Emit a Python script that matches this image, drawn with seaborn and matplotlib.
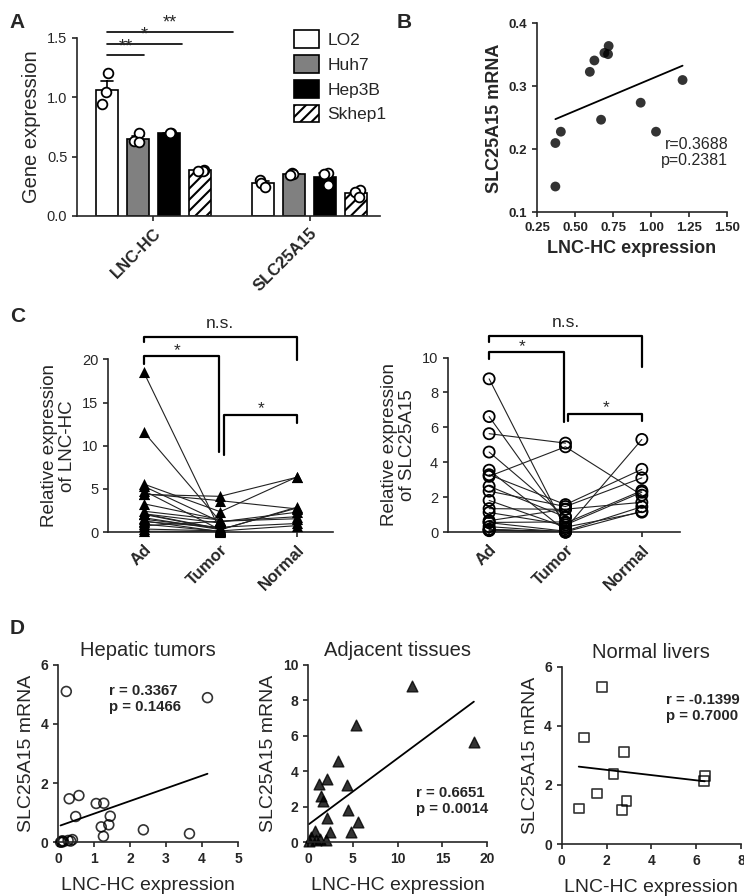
import numpy as np
import pandas as pd
import seaborn as sns
import matplotlib.pyplot as plt

# ---- panel A: cell lines ----
genes = ['LNC-HC', 'SLC25A15']
cell_lines = ['LO2', 'Huh7', 'Hep3B', 'Skhep1']
a_lnc = {'LO2': [1.20, 1.04, 0.94], 'Huh7': [0.70, 0.63, 0.62],
         'Hep3B': [0.70, 0.69, 0.70], 'Skhep1': [0.39, 0.38, 0.38]}
a_slc = {'LO2': [0.30, 0.28, 0.245], 'Huh7': [0.36, 0.35, 0.345],
         'Hep3B': [0.36, 0.355, 0.26], 'Skhep1': [0.22, 0.205, 0.16]}

# ---- panel B: cell line means ----
b_lnc = [0.37, 0.37, 0.406, 0.597, 0.627, 0.693, 0.721, 0.717, 0.671, 0.932, 1.033, 1.208]
b_slc = [0.210, 0.141, 0.228, 0.323, 0.341, 0.353, 0.364, 0.351, 0.247, 0.274, 0.228, 0.310]

# ---- panels C/D: patient samples (one row per patient) ----
adj_lnc = [11.59, 5.31, 18.5, 3.29, 2.13, 1.23, 4.37, 1.50, 1.68, 4.45,
           2.13, 5.57, 0.75, 2.43, 4.79, 0.37, 1.31, 2.06, 0.93, 0.11]
adj_slc = [8.78, 6.62, 5.64, 4.59, 3.55, 3.29, 3.20, 2.63, 2.35, 1.82,
           1.35, 1.13, 0.66, 0.56, 0.55, 0.32, 0.17, 0.13, 0.13, 0.09]
tum_lnc = [1.26, 1.20, 0.23, 1.45, 0.40, 0.58, 4.15, 0.49, 0.31, 3.65,
           1.06, 2.37, 1.27, 1.41, 0.28, 0.15, 0.07, 0.35, 0.12, 0.10]
tum_slc = [0.20, 0.52, 5.10, 0.88, 0.09, 1.58, 4.89, 0.87, 1.47, 0.29,
           1.31, 0.42, 1.32, 0.59, 0.06, 0.02, 0.00, 0.04, 0.05, 0.01]
nan = np.nan
nor_lnc = [1.79, 2.31, nan, nan, nan, 1.01, 6.35, nan, 2.79, 2.70,
           nan, 6.38, 1.56, nan, 2.89, 0.76, nan, nan, nan, nan]
nor_slc = [5.31, 2.38, nan, nan, nan, 3.60, 2.12, nan, 3.11, 1.15,
           nan, 2.29, 1.71, nan, 1.46, 1.20, nan, nan, nan, nan]
groups = ['Ad', 'Tumor', 'Normal']

sns.set_style('ticks')
plt.rcParams['font.family'] = ['Liberation Sans', 'DejaVu Sans']
plt.rcParams['axes.linewidth'] = 1.2
plt.rcParams['xtick.major.width'] = 1.2
plt.rcParams['ytick.major.width'] = 1.2
plt.rcParams['hatch.linewidth'] = 1.5

fig = plt.figure(figsize=(7.44, 8.96), dpi=100)

# ================= A =================
axA = fig.add_axes([0.1035, 0.759, 0.407, 0.199])
rows = []
for gene, d in zip(genes, [a_lnc, a_slc]):
    for cl in cell_lines:
        for v in d[cl]:
            rows.append({'gene': gene, 'cell': cl, 'val': v})
dfA = pd.DataFrame(rows)
pal = {'LO2': 'white', 'Huh7': '#808080', 'Hep3B': 'black', 'Skhep1': 'white'}
sns.barplot(data=dfA, x='gene', y='val', hue='cell', order=genes, hue_order=cell_lines,
            palette=pal, edgecolor='black', linewidth=1.2, errorbar='se', capsize=0.3,
            err_kws={'color': 'black', 'linewidth': 1.2, 'zorder': 0.5}, width=0.8, gap=0.3,
            ax=axA)
for bar in axA.containers[3]:
    bar.set_hatch('///')
sns.stripplot(data=dfA, x='gene', y='val', hue='cell', order=genes, hue_order=cell_lines,
              dodge=True, jitter=0.12, marker='o', size=7, linewidth=1.3,
              palette=['white'] * 4, legend=False, ax=axA)
for c in axA.collections:
    c.set_facecolor('white')
    c.set_edgecolor('black')
    c.set_zorder(3)
axA.set_xlim(-0.49, 1.45)
axA.set_ylim(0, 1.5)
axA.set_yticks([0, 0.5, 1.0, 1.5])
axA.set_yticklabels(['0.0', '0.5', '1.0', '1.5'], fontsize=10.5)
axA.set_xlabel('')
axA.set_ylabel('Gene expression', fontsize=14.5)
axA.set_xticks([0, 1])
axA.set_xticklabels(genes, rotation=45, ha='right', rotation_mode='anchor',
                    fontsize=12, fontweight='bold')
h, l = axA.get_legend_handles_labels()
leg = axA.legend(h[:4], l[:4], loc='upper left', bbox_to_anchor=(0.695, 1.08),
                 frameon=False, fontsize=12.5, handlelength=1.4, handleheight=1.2,
                 labelspacing=0.4, handletextpad=0.5, borderaxespad=0)
leg.get_patches()[3].set_hatch('///')
sns.despine(ax=axA)
# significance lines
for x2, y, t in [(-0.06, 1.35, '**'), (0.18, 1.45, '*'), (0.51, 1.55, '**')]:
    axA.plot([-0.3, x2], [y, y], color='black', lw=1.2, clip_on=False)
    axA.text((-0.3 + x2) / 2, y, t, ha='center', va='bottom', fontsize=13,
             clip_on=False)
fig.text(0.013, 0.985, 'A', fontsize=15, fontweight='bold', va='top')

# ================= B =================
axB = fig.add_axes([0.722, 0.763, 0.255, 0.211])
sns.regplot(x=b_lnc, y=b_slc, ci=None, ax=axB,
            scatter_kws={'color': 'black', 's': 50, 'edgecolor': 'none', 'clip_on': False},
            line_kws={'color': 'black', 'lw': 1.3})
axB.set_xlim(0.25, 1.5)
axB.set_ylim(0.1, 0.4)
axB.set_xticks([0.25, 0.5, 0.75, 1.0, 1.25, 1.5])
axB.set_xticklabels(['0.25', '0.50', '0.75', '1.00', '1.25', '1.50'], fontsize=9.5,
                    fontweight='bold')
axB.set_yticks([0.1, 0.2, 0.3, 0.4])
axB.set_yticklabels(['0.1', '0.2', '0.3', '0.4'], fontsize=9.5, fontweight='bold')
axB.set_xlabel('LNC-HC expression', fontsize=13, fontweight='bold')
axB.set_ylabel('SLC25A15 mRNA', fontsize=13, fontweight='bold')
axB.text(1.51, 0.195, 'r=0.3688\np=0.2381', ha='right', va='center', fontsize=11.5,
         linespacing=1.1)
sns.despine(ax=axB)
fig.text(0.533, 0.985, 'B', fontsize=15, fontweight='bold', va='top')


# ================= C =================
def paired_panel(ax, ad, tum, nor, marker, ylim, yticks, ylabel, brackets, texts):
    df = pd.DataFrame({'Ad': ad, 'Tumor': tum, 'Normal': nor})
    df['patient'] = range(len(df))
    long = df.melt(id_vars='patient', var_name='group', value_name='val').dropna()
    long['pos'] = long['group'].map({g: i for i, g in enumerate(groups)})
    sns.lineplot(data=long, x='pos', y='val', units='patient', estimator=None,
                 color='#222222', lw=0.8, ax=ax, legend=False)
    if marker == '^':
        sns.stripplot(data=long, x='group', y='val', order=groups, jitter=False,
                      marker='^', color='black', size=8, ax=ax, clip_on=False,
                      native_scale=False)
    else:
        sns.stripplot(data=long, x='group', y='val', order=groups, jitter=False,
                      marker='o', facecolor='white', edgecolor='black', linewidth=1.3,
                      size=8, ax=ax, clip_on=False, native_scale=False)
        for c in ax.collections:
            c.set_facecolor('none')
    ax.set_ylim(*ylim)
    ax.set_yticks(yticks)
    ax.set_yticklabels([str(v) for v in yticks], fontsize=10.5)
    ax.set_xticks([0, 1, 2])
    ax.set_xticklabels(groups, rotation=45, ha='right', rotation_mode='anchor',
                       fontsize=12, fontweight='bold')
    ax.set_xlabel('')
    ax.set_ylabel(ylabel, fontsize=13.5, linespacing=1.1)
    for xs, ys in brackets:
        ax.plot(xs, ys, color='black', lw=1.6, clip_on=False)
    for x, y, t in texts:
        ax.text(x, y, t, ha='center', va='bottom', fontsize=12.5, clip_on=False)
    sns.despine(ax=ax)


axC1 = fig.add_axes([0.145, 0.406, 0.302, 0.193])
paired_panel(axC1, adj_lnc, tum_lnc, nor_lnc, '^', (0, 20), [0, 5, 10, 15, 20],
             'Relative expression\nof LNC-HC',
             [([0, 0, 2, 2], [22.0, 22.6, 22.6, 19.9]),
              ([0, 0, 0.98, 0.98], [19.5, 20.4, 20.4, 9.3]),
              ([1.05, 1.05, 2, 2], [8.9, 13.6, 13.6, 12.6])],
             [(1, 23.3, 'n.s.'), (0.43, 20.1, '*'), (1.53, 13.4, '*')])
axC1.set_xlim(-0.47, 2.47)

axC2 = fig.add_axes([0.602, 0.406, 0.312, 0.195])
paired_panel(axC2, adj_slc, tum_slc, nor_slc, 'o', (0, 10), [0, 2, 4, 6, 8, 10],
             'Relative expression\nof SLC25A15',
             [([0, 0, 2, 2], [10.9, 11.24, 11.24, 9.47]),
              ([0, 0, 0.98, 0.98], [9.9, 10.32, 10.32, 6.29]),
              ([1.03, 1.03, 2, 2], [6.34, 6.76, 6.76, 6.34])],
             [(1, 11.55, 'n.s.'), (0.43, 10.2, '*'), (1.53, 6.7, '*')])
axC2.set_xlim(-0.54, 2.5)
fig.text(0.013, 0.647, 'C', fontsize=15, fontweight='bold', va='center')


# ================= D =================
def corr_panel(ax, x, y, marker, title, xlim, xticks, ylim, yticks, tx, ty, txt):
    x = np.asarray(x, dtype=float)
    y = np.asarray(y, dtype=float)
    keep = ~np.isnan(x)
    if marker == '^':
        skw = {'color': 'black', 's': 60, 'clip_on': False}
    else:
        skw = {'facecolors': 'none', 'edgecolors': 'black', 's': 50,
               'linewidths': 1.2, 'clip_on': False}
    sns.regplot(x=x[keep], y=y[keep], ci=None, ax=ax, marker=marker, scatter_kws=skw,
                line_kws={'color': 'black', 'lw': 1.3})
    ax.set_xlim(*xlim)
    ax.set_ylim(*ylim)
    ax.set_xticks(xticks)
    ax.set_xticklabels([str(v) for v in xticks], fontsize=10, fontweight='bold')
    ax.set_yticks(yticks)
    ax.set_yticklabels([str(v) for v in yticks], fontsize=10, fontweight='bold')
    ax.set_title(title, fontsize=14.5, pad=6)
    ax.set_xlabel('LNC-HC expression', fontsize=14, labelpad=8)
    ax.set_ylabel('SLC25A15 mRNA', fontsize=14)
    ax.text(tx, ty, txt, ha='left', va='center', fontsize=10.8, fontweight='bold',
            linespacing=1.2)
    sns.despine(ax=ax)


axD1 = fig.add_axes([0.078, 0.060, 0.242, 0.198])
corr_panel(axD1, tum_lnc, tum_slc, 'o', 'Hepatic tumors', (0, 5), [0, 1, 2, 3, 4, 5],
           (0, 6), [0, 2, 4, 6], 1.41, 4.85, 'r = 0.3367\np = 0.1466')

axD2 = fig.add_axes([0.414, 0.060, 0.241, 0.198])
corr_panel(axD2, adj_lnc, adj_slc, '^', 'Adjacent tissues', (0, 20), [0, 5, 10, 15, 20],
           (0, 10), [0, 2, 4, 6, 8, 10], 12.0, 2.33, 'r = 0.6651\np = 0.0014')

axD3 = fig.add_axes([0.755, 0.058, 0.241, 0.198])
corr_panel(axD3, nor_lnc, nor_slc, 's', 'Normal livers', (0, 8), [0, 2, 4, 6, 8],
           (0, 6), [0, 2, 4, 6], 4.65, 4.6, 'r = -0.1399\np = 0.7000')
fig.text(0.013, 0.299, 'D', fontsize=15, fontweight='bold', va='center')

fig.savefig('out.png', dpi=100)
